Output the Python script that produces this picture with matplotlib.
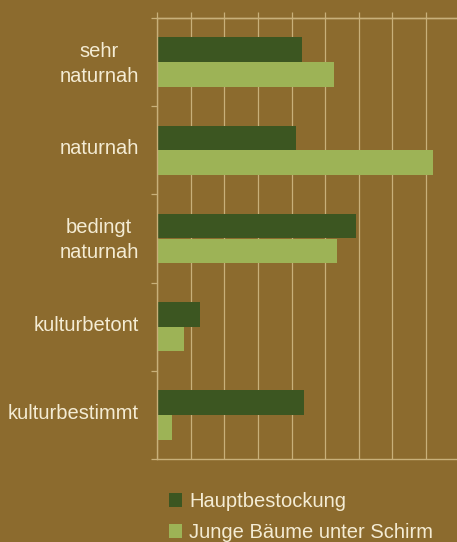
import matplotlib
matplotlib.use("Agg")
import matplotlib.pyplot as plt
import matplotlib.transforms as mtransforms
from matplotlib.patches import Patch
import numpy as np

categories = ["sehr\nnaturnah", "naturnah", "bedingt\nnaturnah", "kulturbetont", "kulturbestimmt"]
hauptbestockung = [21.6, 20.7, 29.6, 6.4, 21.9]
junge_baeume = [26.3, 41.1, 26.8, 4.0, 2.2]
series_names = ["Hauptbestockung", "Junge Bäume unter Schirm"]

BG = "#8c6b2e"
DARK = "#3c5621"
LIGHT = "#9db356"
GRID = "#c8b07a"
TEXT = "#f4ecd4"

plt.rcParams['font.family'] = ['Liberation Sans', 'DejaVu Sans']

fig = plt.figure(figsize=(4.57, 5.42), dpi=100, facecolor=BG)
ax = fig.add_axes([157/457, 1-459/542, 1-157/457, (459-18)/542])
ax.set_facecolor(BG)

y = np.arange(len(categories))
h = 0.28
ax.barh(y - h/2, hauptbestockung, height=h, color=DARK, zorder=3)
ax.barh(y + h/2, junge_baeume, height=h, color=LIGHT, zorder=3)

ax.set_ylim(len(categories) - 0.5, -0.5)
ax.set_xlim(0, 44.6)
ax.set_xticks(np.arange(0, 45, 5))
ax.xaxis.tick_top()
ax.tick_params(axis='x', which='major', length=4.3, width=0.9, color=GRID, labeltop=False, labelbottom=False)
ax.grid(axis='x', color=GRID, linewidth=0.9, zorder=0)
ax.axhline(-0.5, color=GRID, linewidth=1.0, zorder=4, clip_on=False)

ax.set_yticks(y)
ax.set_yticklabels(categories, multialignment='center', color=TEXT, fontsize=14.5, linespacing=1.4)
ax.tick_params(axis='y', which='major', length=0, pad=13)
ax.set_yticks(np.arange(-0.5, len(categories), 1), minor=True)
ax.tick_params(axis='y', which='minor', length=4.3, width=0.9, color=GRID)
offset = mtransforms.ScaledTranslation(0, 0.035, fig.dpi_scale_trans)
for lbl in ax.get_yticklabels():
    lbl.set_transform(lbl.get_transform() + offset)

for s in ['top', 'bottom', 'left']:
    ax.spines[s].set_visible(True)
    ax.spines[s].set_color(GRID)
    ax.spines[s].set_linewidth(1.0)
    ax.spines[s].set_zorder(4)
ax.spines['right'].set_visible(False)

handles = [Patch(facecolor=DARK, edgecolor='none'), Patch(facecolor=LIGHT, edgecolor='none')]
leg = fig.legend(handles, series_names, loc='upper left', bbox_to_anchor=(169/457, 1-492/542),
                 frameon=False, fontsize=14.5, handlelength=0.65, handleheight=0.7,
                 handletextpad=0.35, labelspacing=0.6, borderaxespad=0, borderpad=0)
for t in leg.get_texts():
    t.set_color(TEXT)

fig.savefig("out.png", dpi=100, facecolor=BG)
